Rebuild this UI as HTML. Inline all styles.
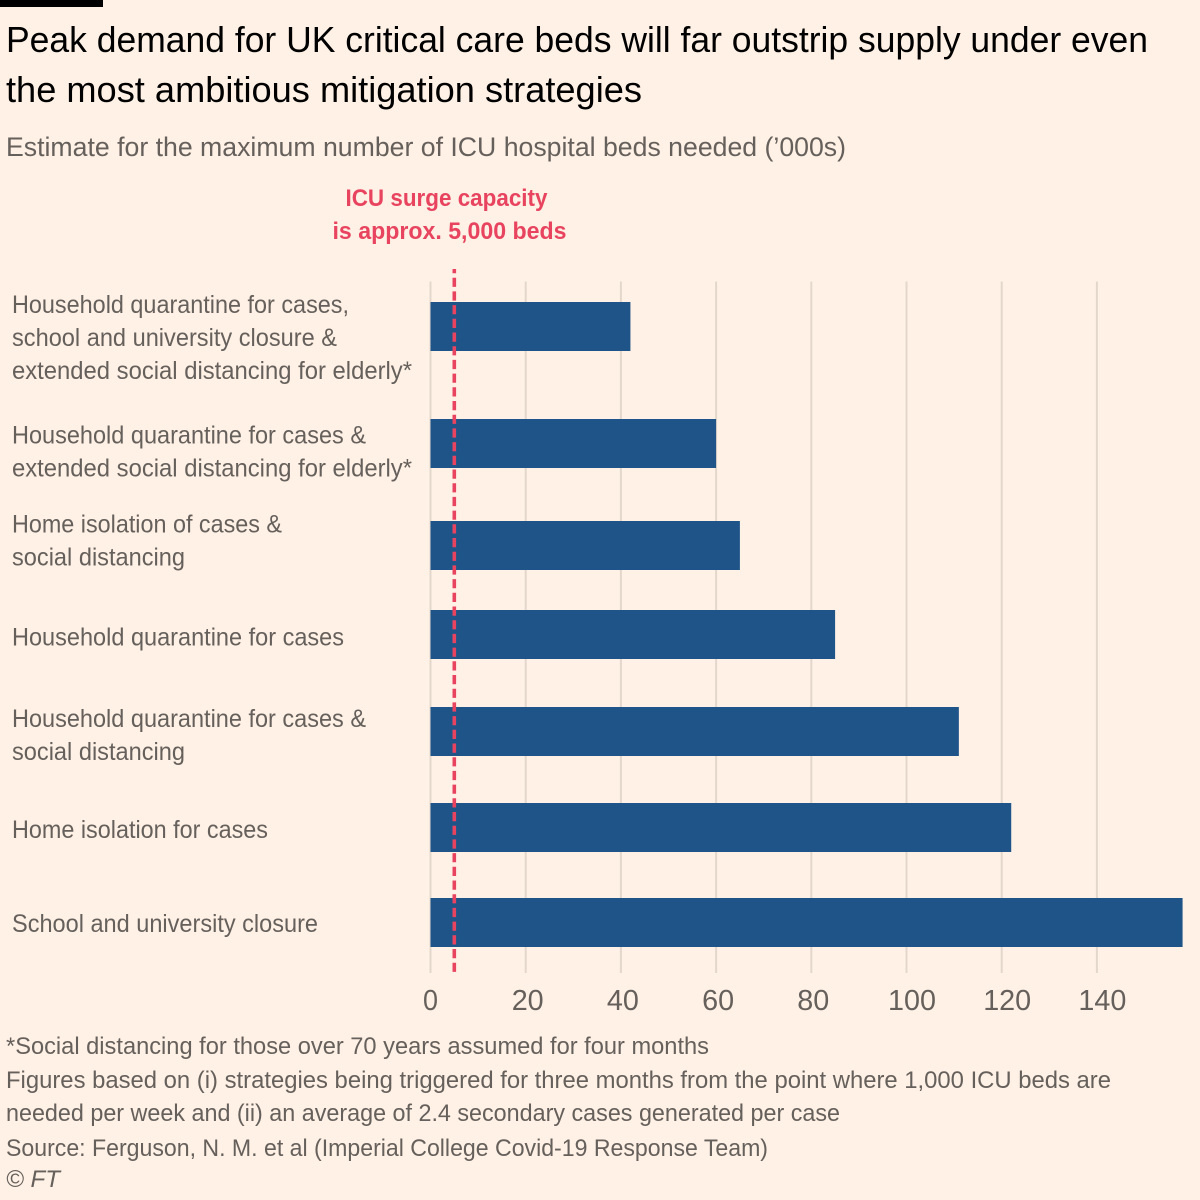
<!DOCTYPE html>
<html><head><meta charset="utf-8">
<style>
html,body{margin:0;padding:0;background:#fff1e5;}
svg{display:block;font-family:"Liberation Sans",sans-serif;}
</style></head>
<body>
<svg id="c" width="1200" height="1200" viewBox="0 0 1200 1200">
<rect width="1200" height="1200" fill="#fff1e5"/>
<rect x="0" y="0" width="103" height="7" fill="#000"/>
<g fill="#000" font-size="36">
<text x="6" y="52" textLength="1142" lengthAdjust="spacingAndGlyphs">Peak demand for UK critical care beds will far outstrip supply under even</text>
<text x="6" y="102" textLength="636" lengthAdjust="spacingAndGlyphs">the most ambitious mitigation strategies</text>
</g>
<text x="6" y="156" font-size="27" fill="#66605c" textLength="840" lengthAdjust="spacingAndGlyphs">Estimate for the maximum number of ICU hospital beds needed (’000s)</text>
<g id="grid"></g>
<g id="bars"></g>
<g id="ref"></g>
<g id="ticks" font-size="29" fill="#66605c"></g>
<g id="cats" font-size="25" fill="#66605c"></g>
<g fill="#e8445f" font-size="24" font-weight="bold" text-anchor="middle">
<text x="446.5" y="206" textLength="202" lengthAdjust="spacingAndGlyphs">ICU surge capacity</text>
<text x="449.5" y="239" textLength="234" lengthAdjust="spacingAndGlyphs">is approx. 5,000 beds</text>
</g>
<g font-size="24" fill="#66605c">
<text x="6" y="1054" textLength="703" lengthAdjust="spacingAndGlyphs">*Social distancing for those over 70 years assumed for four months</text>
<text x="6" y="1088" textLength="1105" lengthAdjust="spacingAndGlyphs">Figures based on (i) strategies being triggered for three months from the point where 1,000 ICU beds are</text>
<text x="6" y="1121" textLength="834" lengthAdjust="spacingAndGlyphs">needed per week and (ii) an average of 2.4 secondary cases generated per case</text>
<text x="6" y="1156" textLength="762" lengthAdjust="spacingAndGlyphs">Source: Ferguson, N. M. et al (Imperial College Covid-19 Response Team)</text>
<text x="6" y="1187" textLength="54" lengthAdjust="spacingAndGlyphs" font-style="italic">© FT</text>
</g>
</svg>
<script>
var categories = [
  ["Household quarantine for cases,", "school and university closure &", "extended social distancing for elderly*"],
  ["Household quarantine for cases &", "extended social distancing for elderly*"],
  ["Home isolation of cases &", "social distancing"],
  ["Household quarantine for cases"],
  ["Household quarantine for cases &", "social distancing"],
  ["Home isolation for cases"],
  ["School and university closure"]
];
var values = [42, 60, 65, 85, 111, 122, 158];
var tickValues = [0, 20, 40, 60, 80, 100, 120, 140];
var surgeCapacity = 5;

var NS = "http://www.w3.org/2000/svg";
function x(v) { return 430.5 + v * 4.76; }
// Layout only: rows are unevenly spaced in the reference.
function rowCentre(i) {
  var gaps = [0, 117, 102, 89, 97, 96, 95];
  var y = 326.5;
  for (var k = 1; k <= i; k++) y += gaps[k];
  return y;
}
function labelShift(i) {
  return [-13.5, 0, -13, 11, -4.5, 10.5, 9.5][i];
}
function labelWidth(s) {
  var w = {
    "Household quarantine for cases,": 337,
    "school and university closure &": 325,
    "extended social distancing for elderly*": 400,
    "Household quarantine for cases &": 354,
    "Home isolation of cases &": 270,
    "social distancing": 173,
    "Household quarantine for cases": 332,
    "Home isolation for cases": 256,
    "School and university closure": 306
  };
  return w[s];
}
function mk(tag, attrs, parent) {
  var el = document.createElementNS(NS, tag);
  for (var a in attrs) el.setAttribute(a, attrs[a]);
  parent.appendChild(el);
  return el;
}
var barH = 49;
tickValues.forEach(function (t) {
  var line = mk("line", {x1: x(t), x2: x(t), y1: 281.5, y2: 973, stroke: "#e3d7cc", "stroke-width": 2}, document.getElementById("grid"));
  
  
  var digits = String(t).length;
  var shift = digits === 3 ? 5.5 : digits === 2 ? 2 : 0;
  var label = mk("text", {x: x(t) + shift, y: 1010, "text-anchor": "middle"}, document.getElementById("ticks"));
  label.textContent = t;
  label.setAttribute("textLength", digits === 3 ? 48 : digits === 2 ? 32 : 15);
  label.setAttribute("lengthAdjust", "spacingAndGlyphs");
  
  
});
values.forEach(function (v, i) {
  var c = rowCentre(i);
  var bar = mk("rect", {x: x(0), y: c - barH / 2, width: x(v) - x(0), height: barH, fill: "#1f5488"}, document.getElementById("bars"));
  
  
  var lines = categories[i];
  var lineH = 33;
  var start = c + labelShift(i);
  lines.forEach(function (s, j) {
    var t = mk("text", {x: 12, y: start + j * lineH}, document.getElementById("cats"));
    t.textContent = s;
    t.setAttribute("textLength", labelWidth(s));
    t.setAttribute("lengthAdjust", "spacingAndGlyphs");
    
    
  });
});
var refLine = mk("line", {x1: x(surgeCapacity), x2: x(surgeCapacity), y1: 269, y2: 972.5, stroke: "#e8445f", "stroke-width": 3.6, "stroke-dasharray": "9.2 4.5", "stroke-dashoffset": 5}, document.getElementById("ref"));


</script>
</body></html>
